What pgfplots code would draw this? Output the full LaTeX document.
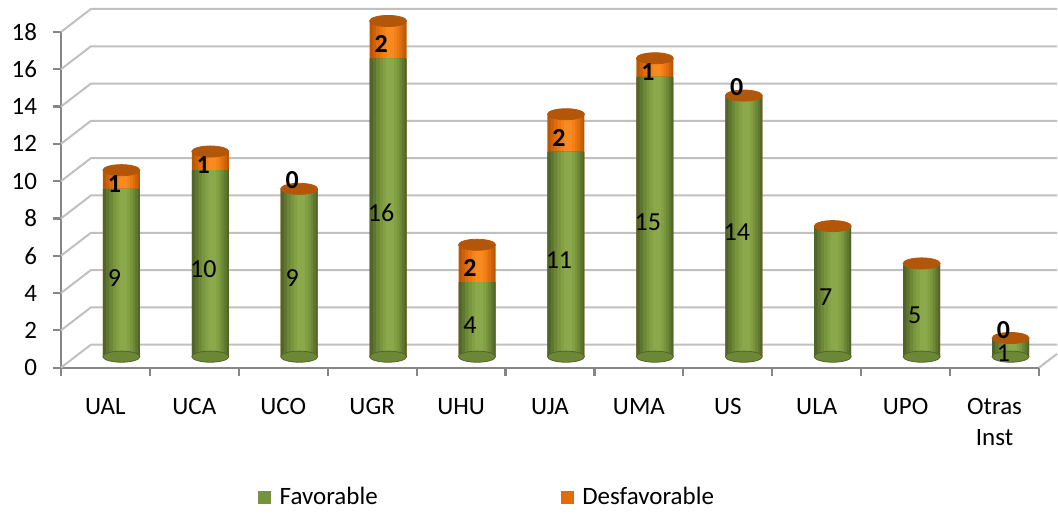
\documentclass[border=0pt]{standalone}
\usepackage{pgfplots}
\pgfplotsset{compat=1.18}
\usepackage{pgfplotstable}
\usepackage{fontspec}
\setmainfont{Carlito}
\definecolor{g1}{HTML}{51652A}
\definecolor{g2}{HTML}{5E7630}
\definecolor{g3}{HTML}{6C8736}
\definecolor{g4}{HTML}{79963D}
\definecolor{g5}{HTML}{83A144}
\definecolor{g6}{HTML}{8BA94A}
\definecolor{o1}{HTML}{BA5705}
\definecolor{o2}{HTML}{CC6109}
\definecolor{o3}{HTML}{DD6C0E}
\definecolor{o4}{HTML}{EA7713}
\definecolor{o5}{HTML}{F38119}
\definecolor{o6}{HTML}{F88A20}
\definecolor{capO}{HTML}{B3560A}
\definecolor{legG}{HTML}{77933C}
\definecolor{legO}{HTML}{E36C09}
\definecolor{gridgray}{HTML}{C0C0C0}
\definecolor{axisgray}{HTML}{868686}
\newcommand\cf{\fontsize{12.5bp}{15.5bp}\selectfont}
\newcommand\lf{\fontsize{13bp}{15.5bp}\selectfont}
\pgfplotstableread{
x fav des dl
0 9 1 1
1 10 1 1
2 9 0 0
3 16 2 2
4 4 2 2
5 11 2 2
6 15 1 1
7 14 0 0
8 7 0 {}
9 5 0 {}
10 1 0 0
}\datatable
\pgfplotsset{
  cyl/.style n args={3}{ybar, bar width=#1, bar shift=#3, yshift=5.5bp, draw=none, fill=#2, forget plot},
}
\begin{document}
\begin{tikzpicture}
\begin{axis}[
  scale only axis, width=489.5bp, height=168bp,
  xmin=-0.5, xmax=10.5, ymin=0, ymax=18,
  axis lines*=left,
  axis line style={draw=axisgray, line width=1.1bp},
  tick align=outside, major tick length=4bp,
  tick style={draw=axisgray, line width=1.1bp},
  xtick={-0.5,0.5,...,10.5},
  x tick label as interval,
  xticklabels={UAL,UCA,UCO,UGR,UHU,UJA,UMA,US,ULA,UPO,{Otras\\Inst}},
  xticklabel style={font=\cf, align=center, yshift=-8bp},
  ytick={0,2,...,18},
  yticklabel style={font=\cf, xshift=-4.5bp},
  /pgf/number format/assume math mode=true,
  clip=false,
  legend columns=2,
  legend cell align=left,
  legend style={at={(0.201,0)}, anchor=west, yshift=-65bp, draw=none, fill=none,
    inner sep=0pt, font=\cf, /tikz/every even column/.append style={column sep=89.5bp}},
]
\addlegendimage{legend image code/.code={\fill[legG] (0bp,-3bp) rectangle (6bp,3bp);}}
\addlegendentry{\hspace{2.5bp}Favorable}
\addlegendimage{legend image code/.code={\fill[legO] (0bp,-3bp) rectangle (6bp,3bp);}}
\addlegendentry{\hspace{2.5bp}Desfavorable}

\pgfplotsinvokeforeach{0,2,...,18}{
  \draw[gridgray, line width=1bp] (axis cs:-0.5,#1) -- ++(15bp,11.5bp) -- ([shift={(9bp,11.5bp)}]axis cs:10.5,#1);
}
\draw[gridgray, line width=1bp] (axis cs:10.5,0) -- ++(9bp,6.9bp);

% bottom rounding
\addplot[only marks, color=g1, mark=*, mark size=9.25bp, mark options={yscale=0.3, fill=g3},
  xshift=8bp, yshift=5.5bp, forget plot] table[x=x, y expr=0]{\datatable};
% total (orange) bars, cylinder strips
\addplot[cyl={18.5bp}{o1}{8bp}] table[x=x, y expr=\thisrow{fav}+\thisrow{des}]{\datatable};
\addplot[cyl={16bp}{o2}{8.3bp}] table[x=x, y expr=\thisrow{fav}+\thisrow{des}]{\datatable};
\addplot[cyl={13bp}{o3}{8.5bp}] table[x=x, y expr=\thisrow{fav}+\thisrow{des}]{\datatable};
\addplot[cyl={10bp}{o4}{8.7bp}] table[x=x, y expr=\thisrow{fav}+\thisrow{des}]{\datatable};
\addplot[cyl={7bp}{o5}{8.9bp}] table[x=x, y expr=\thisrow{fav}+\thisrow{des}]{\datatable};
\addplot[cyl={4bp}{o6}{9bp}] table[x=x, y expr=\thisrow{fav}+\thisrow{des}]{\datatable};
% favorable (green) bars, cylinder strips
\addplot[cyl={18.5bp}{g1}{8bp}] table[x=x, y=fav]{\datatable};
\addplot[cyl={16bp}{g2}{8.3bp}] table[x=x, y=fav]{\datatable};
\addplot[cyl={13bp}{g3}{8.5bp}] table[x=x, y=fav]{\datatable};
\addplot[cyl={10bp}{g4}{8.7bp}] table[x=x, y=fav]{\datatable};
\addplot[cyl={7bp}{g5}{8.9bp}] table[x=x, y=fav]{\datatable};
\addplot[cyl={4bp}{g6}{9bp}] table[x=x, y=fav]{\datatable};
% caps
\addplot[only marks, color=capO, mark=*, mark size=9.25bp, mark options={yscale=0.3, fill=capO},
  xshift=8bp, yshift=5.5bp, forget plot] table[x=x, y expr=\thisrow{fav}+\thisrow{des}]{\datatable};
% labels favorable
\addplot[draw=none, mark=none, nodes near coords, point meta=explicit symbolic,
  nodes near coords style={font=\lf, anchor=center, inner sep=0pt, text=black},
  xshift=4.5bp, yshift=5.5bp, forget plot]
  table[x=x, y expr=\thisrow{fav}/2-0.3, meta=fav]{\datatable};
% labels desfavorable
\addplot[draw=none, mark=none, nodes near coords, point meta=explicit symbolic,
  nodes near coords style={font=\bfseries\lf, anchor=center, inner sep=0pt, text=black},
  xshift=4.5bp, yshift=5.5bp, forget plot]
  table[x=x, y expr={\thisrow{fav}+ifthenelse(\thisrow{des}==0,0.45,\thisrow{des}/2-0.25)}, meta=dl]{\datatable};
\end{axis}
\path ([shift={(-30.5bp,-74bp)}]current axis.south west) rectangle ++(529bp,258bp);
\end{tikzpicture}
\end{document}
